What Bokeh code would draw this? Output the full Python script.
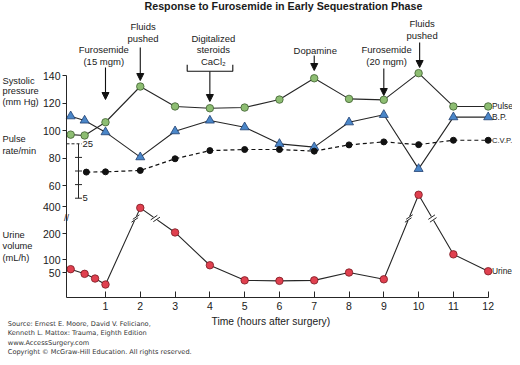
import math
from bokeh.plotting import figure
from bokeh.models import Range1d, FixedTicker, Label, Arrow, NormalHead, LinearAxis
from bokeh.embed import file_html
from bokeh.resources import INLINE

# ---------------- data ----------------
TITLE = "Response to Furosemide in Early Sequestration Phase"
hours = [1, 2, 3, 4, 5, 6, 7, 8, 9, 10, 11, 12]
sys_ticks = [60, 80, 100, 120, 140]
urine_ticks = [50, 100, 200, 400]
cvp_ticks = [5, 10, 15, 20, 25]
cvp_tick_labels = {5: "5", 25: "25"}

pulse_t = [0, 0.4, 1, 2, 3, 4, 5, 6, 7, 8, 9, 10, 11, 12]
pulse = [97, 96.4, 106, 132, 117.5, 116.2, 116.7, 122.5, 138, 123, 122.3, 141.7, 117.5, 117.5]
bp_t = [0, 0.4, 1, 2, 3, 4, 5, 6, 7, 8, 9, 10, 11, 12]
bp = [110.4, 107.3, 98.8, 80.6, 99.5, 107.3, 102.4, 90.3, 87.9, 106, 111.4, 72.1, 109.7, 109.7]
cvp_t = [0.45, 1, 2, 3, 4, 5, 6, 7, 8, 9, 10, 11, 12]
cvp = [14.6, 14.7, 15.2, 19.5, 22.5, 22.9, 22.9, 22.3, 24.6, 25.7, 24.7, 26.3, 26.3]
urine_t = [0, 0.4, 0.7, 1, 2, 3, 4, 5, 6, 7, 8, 9, 10, 11, 12]
urine = [64, 46, 28, 5, 390, 210, 79, 21, 19, 21, 51, 25, 486, 121, 56]
series_names = ["Pulse", "B.P.", "C.V.P.", "Urine"]

events = [
    dict(x=1.0, tx=0.95, lines=["Furosemide", "(15 mgm)"], ly=[48.7, 60.7], a0=67, a1=99),
    dict(x=2.0, tx=2.08, lines=["Fluids", "pushed"], ly=[26, 38.3], a0=47, a1=80),
    dict(x=4.0, tx=4.1, lines=["Digitalized", "steroids", "CaCl\u2082"], ly=[37.7, 49, 61], a0=71, a1=101),
    dict(x=7.0, tx=7.03, lines=["Dopamine"], ly=[49.7], a0=55, a1=70),
    dict(x=9.0, tx=9.08, lines=["Furosemide", "(20 mgm)"], ly=[49.3, 61.3], a0=68, a1=95),
    dict(x=10.03, tx=10.1, lines=["Fluids", "pushed"], ly=[23.3, 34.7], a0=42, a1=67),
]
source_lines = [
    "Source: Ernest E. Moore, David V. Feliciano,",
    "Kenneth L. Mattox: Trauma, Eighth Edition",
    "www.AccessSurgery.com",
    "Copyright \u00a9 McGraw-Hill Education. All rights reserved.",
]

# ---------------- layout helpers (image pixel -> data) ----------------
W, H = 512, 357
AX_L, AX_B = 66, 297          # pixel position of left axis / bottom axis
X0_IMG, PXH = 70.2, 34.79
Y140_IMG, PXY = 75.0, 1.375


def hx(px):
    return (px - X0_IMG) / PXH


def vy(py):
    return 140 - (py - Y140_IMG) / PXY


# secondary scales mapped onto the shared vertical coordinate
CVP_Y0, CVP_K = 40.87, 1.978
U_LO0, U_LO_K = -12.95, 0.1891
U_HI0, U_HI_K = 24.87, 0.09927


def cvp_Y(c):
    return CVP_Y0 + CVP_K * c


def urine_Y(u):
    return U_LO0 + U_LO_K * u if u <= 200 else U_HI0 + U_HI_K * (u - 200)


FONT = "Liberation Sans"
TXT = "#1a1a1a"
LINE = "#262626"

p = figure(width=W, height=H, x_axis_type=None, y_axis_type=None,
           x_range=Range1d(hx(0), hx(W)), y_range=Range1d(vy(H), vy(0)),
           output_backend="svg", toolbar_location=None,
           min_border_left=0, min_border_right=0, min_border_top=0, min_border_bottom=0)
p.outline_line_color = None
p.grid.visible = False

# x axis
xa = LinearAxis(fixed_location=vy(AX_B), bounds=(hx(AX_L), 12), ticker=FixedTicker(ticks=hours))
xa.major_tick_in = 6
xa.major_tick_out = 0
xa.minor_tick_line_color = None
xa.axis_line_color = LINE
xa.major_tick_line_color = LINE
xa.major_label_text_font = FONT
xa.major_label_text_font_size = "10.5px"
xa.major_label_text_color = TXT
xa.major_label_standoff = 4
p.add_layout(xa, "below")

# y axis (systolic / pulse scale + urine scale)
u_pos = [urine_Y(u) for u in urine_ticks]
ya = LinearAxis(fixed_location=hx(AX_L), bounds=(vy(AX_B), 140),
                ticker=FixedTicker(ticks=sys_ticks + u_pos))
ya.major_label_overrides = {pos: str(u) for pos, u in zip(u_pos, urine_ticks)}
ya.major_tick_in = 0
ya.major_tick_out = 4
ya.minor_tick_line_color = None
ya.axis_line_color = LINE
ya.major_tick_line_color = LINE
ya.major_label_text_font = FONT
ya.major_label_text_font_size = "10.5px"
ya.major_label_text_color = TXT
ya.major_label_standoff = 2
p.add_layout(ya, "left")


def add_text(x, y, text, size="9.5px", align="left", baseline="middle", bold=False, font=FONT, color=TXT):
    p.add_layout(Label(x=x, y=y, text=text, text_font=font, text_font_size=size,
                       text_align=align, text_baseline=baseline, text_color=color,
                       text_font_style="bold" if bold else "normal"))


# title
add_text(hx(144), vy(5.5), TITLE, size="10.7px", align="left", bold=True)

# left axis titles
for txt, yy in [("Systolic", 80), ("pressure", 90.7), ("(mm Hg)", 101.7),
                ("Pulse", 138.7), ("rate/min", 150),
                ("Urine", 234), ("volume", 245.3), ("(mL/h)", 257.3)]:
    add_text(hx(2), vy(yy), txt, size="9.3px")

# x axis title
add_text(hx(211), vy(320.5), "Time (hours after surgery)", size="10.3px")

# source lines
for i, s in enumerate(source_lines):
    add_text(hx(7.3), vy(323.5 + 9.3 * i), s, size="6.6px", font="DejaVu Sans", color="#333333")

# axis break on left axis
add_text(hx(AX_L), vy(217.3), "//", size="9px", align="center")

# CVP mini axis
xc = hx(78)
half = 3.5 / PXH
p.segment(x0=[xc], y0=[cvp_Y(cvp_ticks[0])], x1=[xc], y1=[cvp_Y(cvp_ticks[-1])], line_color=LINE, line_width=1)
p.segment(x0=[xc - half] * (len(cvp_ticks) - 1), y0=[cvp_Y(c) for c in cvp_ticks[:-1]],
          x1=[xc + half] * (len(cvp_ticks) - 1), y1=[cvp_Y(c) for c in cvp_ticks[:-1]],
          line_color=LINE, line_width=1)
p.segment(x0=[hx(AX_L)], y0=[cvp_Y(cvp_ticks[-1])], x1=[xc + half], y1=[cvp_Y(cvp_ticks[-1])],
          line_color=LINE, line_width=1, line_dash="3 2")
for c, lab in cvp_tick_labels.items():
    add_text(xc + 4 / PXH, cvp_Y(c), lab, size="9.5px")

# series lines
py_u = [urine_Y(u) for u in urine]
py_c = [cvp_Y(c) for c in cvp]
p.line(pulse_t, pulse, line_color=LINE, line_width=1.1)
p.line(bp_t, bp, line_color=LINE, line_width=1.1)
p.line(cvp_t, py_c, line_color="#111111", line_width=1.2, line_dash="4 3")
p.line(urine_t, py_u, line_color=LINE, line_width=1.1)

# break marks on urine line where it crosses the scale break
yb_line = vy(218)
bx, by = [], []
for i in range(len(urine_t) - 1):
    y1, y2 = py_u[i], py_u[i + 1]
    if (y1 - yb_line) * (y2 - yb_line) < 0:
        f = (yb_line - y1) / (y2 - y1)
        xm = urine_t[i] + f * (urine_t[i + 1] - urine_t[i])
        dx = (urine_t[i + 1] - urine_t[i]) * PXH
        dy = (y2 - y1) * PXY
        n = math.hypot(dx, dy)
        ux, uy = dx / n, dy / n
        p.scatter([xm], [yb_line], marker="square", size=4, fill_color="white", line_color=None)
        for s in (-1.6, 1.6):
            bx.append(xm + s * ux / PXH)
            by.append(yb_line + s * uy / PXY)
p.scatter(bx, by, marker="dash", size=8, angle=0.6, line_color=LINE, line_width=1)

# markers
p.scatter(pulse_t, pulse, marker="circle", size=7.5, fill_color="#8dbd72", line_color="#3f5f30", line_width=0.8)
p.scatter(bp_t, bp, marker="triangle", size=9, fill_color="#4a86c8", line_color="#1f3f70", line_width=0.8)
p.scatter(cvp_t, py_c, marker="circle", size=6, fill_color="#111111", line_color="#111111")
p.scatter(urine_t, py_u, marker="circle", size=7.5, fill_color="#e0404f", line_color="#7a1a22", line_width=0.8)

# right-side series labels
for name, yy, fs in zip(series_names, [pulse[-1], bp[-1], py_c[-1], py_u[-1]],
                        ["8.4px", "8.4px", "7.6px", "8.4px"]):
    add_text(hx(491.5), yy, name, size=fs)

# event annotations
for ev in events:
    for txt, yy in zip(ev["lines"], ev["ly"]):
        add_text(ev["tx"], vy(yy), txt, size="9.5px", align="center")
    p.add_layout(Arrow(x_start=ev["x"], y_start=vy(ev["a0"]), x_end=ev["x"], y_end=vy(ev["a1"]),
                       end=NormalHead(size=7, fill_color="#111111", line_color="#111111"),
                       line_color="#111111", line_width=1.1))

# bracket for the digitalization event
bl, br = hx(186.7), hx(232.3)
p.line([bl, bl, br, br], [vy(64.3), vy(70.7), vy(70.7), vy(64.3)], line_color="#111111", line_width=1.1)

open("out.html", "w").write(file_html(p, INLINE))
